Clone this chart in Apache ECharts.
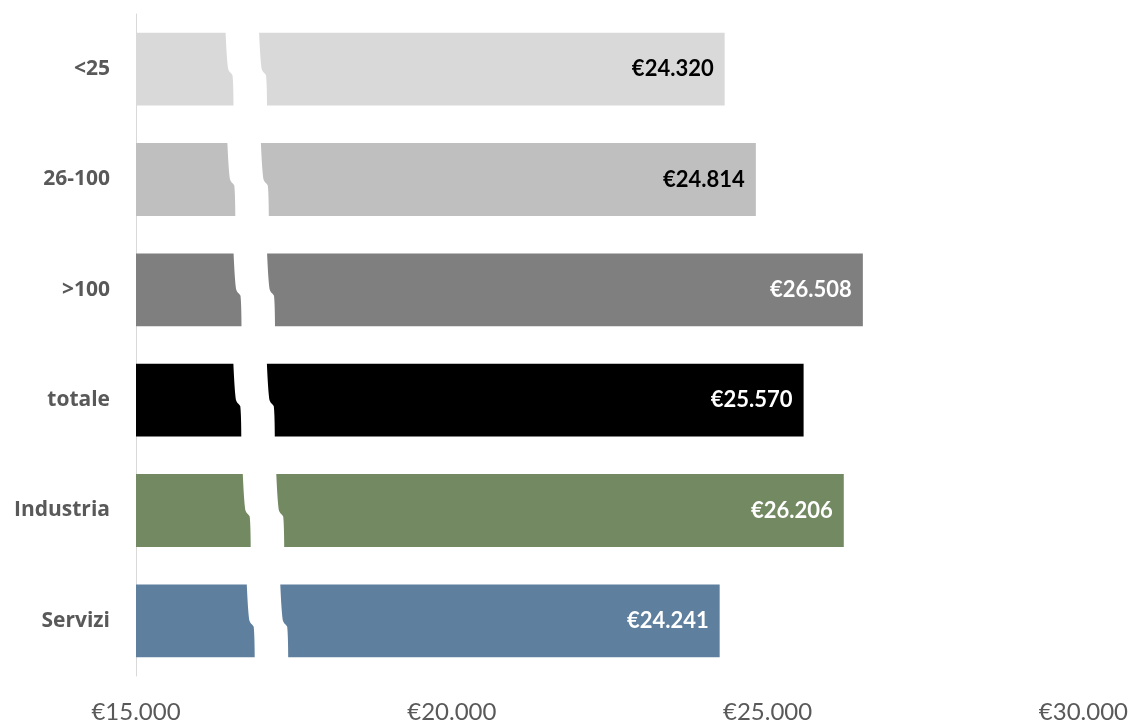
<!DOCTYPE html>
<html>
<head>
<meta charset="utf-8">
<script src="https://cdn.jsdelivr.net/npm/echarts@6/dist/echarts.min.js"></script>
<style>
html,body{margin:0;padding:0;background:#fff;}
#chart{width:1131px;height:724px;}
</style>
</head>
<body>
<div id="chart"></div>
<script>
const categories = ['<25', '26-100', '>100', 'totale', 'Industria', 'Servizi'];
const values = [24320, 24814, 26508, 25570, 26206, 24241];
const xTicks = [15000, 20000, 25000, 30000];

const barColors = ['#d9d9d9', '#bfbfbf', '#7f7f7f', '#000000', '#738962', '#5f7f9e'];
const labelColors = ['#000000', '#000000', '#ffffff', '#ffffff', '#ffffff', '#ffffff'];
// decorative break: pixel offset of the gap's top-left from the axis start, per bar
const breakShift = [89.5, 91.3, 97.5, 97.3, 106.7, 110.7];
const FONT = 'Lato, "Noto Sans", sans-serif';
const CAT_FONT = '"Open Sans", "Noto Sans", sans-serif';

function fmt(v) {
  return '€' + String(Math.round(v)).replace(/\B(?=(\d{3})+(?!\d))/g, '.');
}

const chart = echarts.init(document.getElementById('chart'), null, {renderer: 'canvas'});

const barData = values.map((v, i) => ({
  value: v,
  itemStyle: {color: barColors[i]},
  label: {color: labelColors[i]}
}));

chart.setOption({
  animation: false,
  backgroundColor: '#ffffff',
  grid: {left: 136, right: 47, top: 14, bottom: 48, containLabel: false},
  xAxis: {
    type: 'value',
    min: xTicks[0],
    max: xTicks[xTicks.length - 1],
    interval: xTicks[1] - xTicks[0],
    axisLine: {show: false},
    axisTick: {show: false},
    splitLine: {show: false},
    axisLabel: {
      formatter: fmt,
      fontFamily: FONT,
      fontSize: 24,
      color: '#595959',
      margin: 24
    }
  },
  yAxis: {
    type: 'category',
    data: categories,
    inverse: true,
    axisLine: {show: true, lineStyle: {color: '#d9d9d9', width: 1}},
    axisTick: {show: false},
    axisLabel: {
      fontFamily: CAT_FONT,
      fontSize: 21,
      fontWeight: 'bold',
      color: '#595959',
      margin: 26
    }
  },
  series: [
    {
      type: 'bar',
      data: barData,
      barCategoryGap: '34%',
      label: {
        show: true,
        position: 'insideRight',
        distance: 11,
        formatter: p => fmt(p.value),
        fontFamily: FONT,
        fontSize: 22,
        fontWeight: 'bold'
      },
      z: 2
    },
    {
      type: 'custom',
      silent: true,
      z: 3,
      data: categories.map((c, i) => [xTicks[0], i]),
      renderItem: function (params, api) {
        const i = api.value(1);
        const p = api.coord([api.value(0), i]);
        const band = api.size([0, 1])[1];
        const h = band * 0.66;
        const top = p[1] - h / 2 - 2;
        const bot = p[1] + h / 2 + 2;
        const mid = p[1];
        const L = p[0] + breakShift[i];
        const W = 33.5;
        const edge = (x) => [
          [x, top],
          [x + 2.5, mid - 1],
          [x + 7, mid + 6],
          [x + 8, bot]
        ];
        const le = edge(L), re = edge(L + W);
        const d =
          'M' + le[0][0] + ' ' + le[0][1] +
          ' Q' + (le[0][0] + 1.2) + ' ' + (mid - 10) + ' ' + le[1][0] + ' ' + le[1][1] +
          ' C' + (le[1][0] + 0.8) + ' ' + (mid + 3) + ' ' + (le[2][0] - 1.5) + ' ' + (mid + 3) + ' ' + le[2][0] + ' ' + le[2][1] +
          ' Q' + (le[2][0] + 0.9) + ' ' + (mid + 14) + ' ' + le[3][0] + ' ' + le[3][1] +
          ' L' + re[3][0] + ' ' + re[3][1] +
          ' Q' + (re[2][0] + 0.9) + ' ' + (mid + 14) + ' ' + re[2][0] + ' ' + re[2][1] +
          ' C' + (re[2][0] - 1.5) + ' ' + (mid + 3) + ' ' + (re[1][0] + 0.8) + ' ' + (mid + 3) + ' ' + re[1][0] + ' ' + re[1][1] +
          ' Q' + (re[0][0] + 1.2) + ' ' + (mid - 10) + ' ' + re[0][0] + ' ' + re[0][1] +
          ' Z';
        return {
          type: 'path',
          shape: {pathData: d},
          style: {fill: '#ffffff', stroke: null}
        };
      }
    }
  ]
});
</script>
</body>
</html>
